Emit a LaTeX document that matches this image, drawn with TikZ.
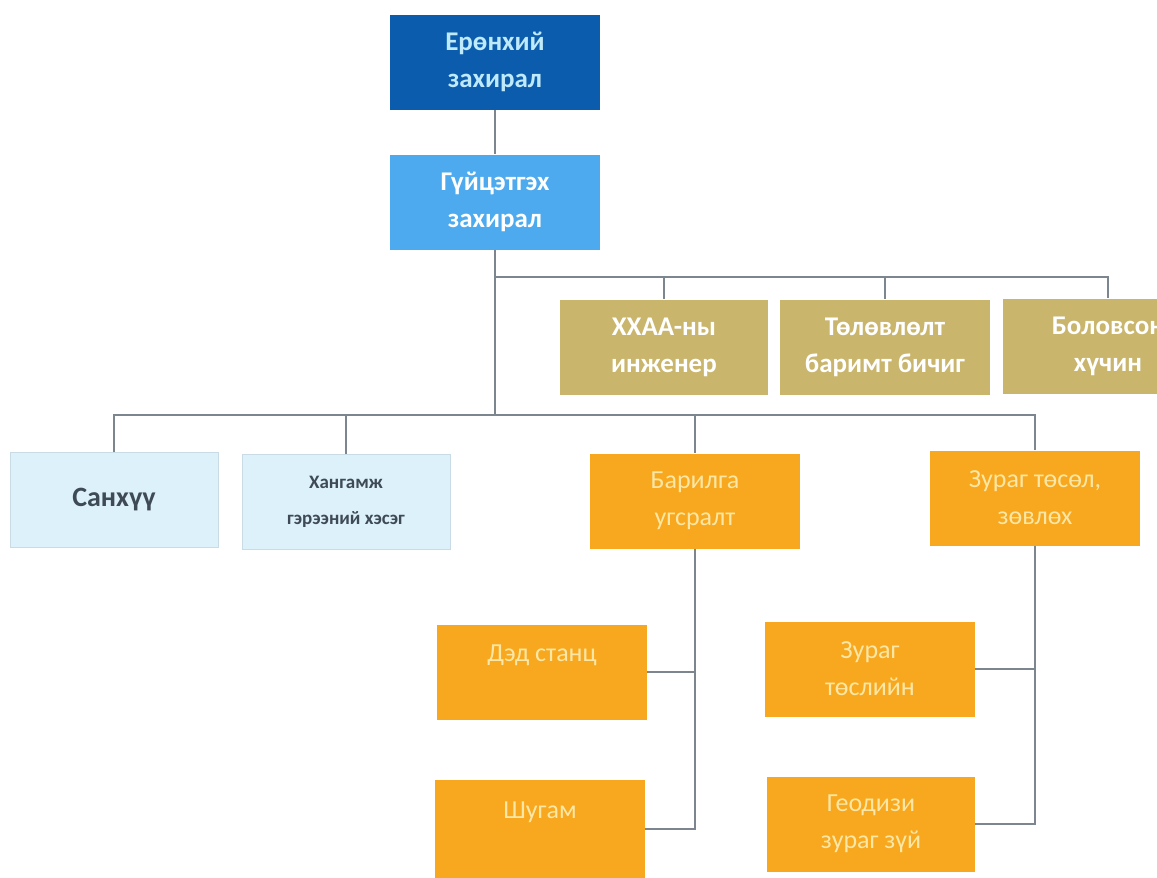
\documentclass[tikz,border=0pt]{standalone}
\usepackage{fontspec}
\setmainfont{Carlito}
\definecolor{dkblue}{HTML}{0B5CAD}
\definecolor{ltblue}{HTML}{4DAAEE}
\definecolor{tan}{HTML}{C9B56C}
\definecolor{pale}{HTML}{DDF1FA}
\definecolor{paleedge}{HTML}{C9DCE6}
\definecolor{orng}{HTML}{F8A81E}
\definecolor{orngtxt}{HTML}{FCE7A6}
\definecolor{conn}{HTML}{7D868E}
\definecolor{darktxt}{HTML}{3E4A56}
\begin{document}
\begin{tikzpicture}[x=1pt,y=-1pt,
  box/.style={minimum width=210pt,minimum height=95pt,inner sep=0pt,align=center,
    font=\fontsize{27}{37}\selectfont\bfseries},
  topbox/.style={box,fill=dkblue,text=cyan!25!white},
  secbox/.style={box,fill=ltblue,text=white},
  tanbox/.style={box,fill=tan,text=white},
  palebox/.style={box,fill=pale,draw=paleedge,line width=0.8pt,text=darktxt},
  orbox/.style={box,fill=orng,text=orngtxt,font=\fontsize{26}{37}\selectfont},
  link/.style={draw=conn,line width=1.6pt}]
\useasboundingbox (0,0) rectangle (1157,878);
\begin{scope}
\clip (0,0) rectangle (1157,878);
% nodes
\node[topbox] (e) at (495,62) {Ерөнхий\\захирал};
\node[secbox] (g) at (495,202) {Гүйцэтгэх\\захирал};
\node[tanbox,minimum width=208pt] (t1) at (664,347) {ХХАА-ны\\инженер};
\node[tanbox] (t2) at (885,347) {Төлөвлөлт\\баримт бичиг};
\node[tanbox] (t3) at (1108,346) {Боловсон\\хүчин};
\node[palebox,minimum width=208pt,font=\fontsize{28}{37}\selectfont\bfseries] (s1) at (114,500) {Санхүү};
\node[palebox,minimum width=208pt,font=\fontsize{19}{36}\selectfont\bfseries] (s2) at (346,502) {Хангамж\\гэрээний хэсэг};
\node[orbox] (b) at (695,501) {Барилга\\угсралт};
\node[orbox] (z) at (1035,498) {Зураг төсөл,\\зөвлөх};
\node[orbox] (d1) at (542,672) {Дэд станц\\[0pt]\phantom{x}};
\node[orbox,minimum height=98pt] (d2) at (540,829) {Шугам\\[0pt]\phantom{x}};
\node[orbox] (z1) at (870,669) {Зураг\\төслийн};
\node[orbox,minimum width=208pt] (z2) at (871,824) {Геодизи\\зураг зүй};
% junction coordinates
\coordinate (j1) at (495,277);
\coordinate (j2) at (495,415);
\end{scope}
% connectors
\draw[link] (e.south) -- (g.north);
\draw[link] (g.south) -- (j2);
\draw[link] (j1) -| (t1.north);
\draw[link] (j1) -| (t2.north);
\draw[link] (j1) -| (t3.north);
\draw[link] (j2) -| (s1.north);
\draw[link] (j2) -| (s2.north);
\draw[link] (j2) -| (b.north);
\draw[link] (j2) -| (z.north);
\draw[link] (b.south) |- (d2.east);
\draw[link] (d1.east) -- (d1.east -| b.south);
\draw[link] (z.south) |- (z2.east);
\draw[link] (z1.east) -- (z1.east -| z.south);
\end{tikzpicture}
\end{document}
